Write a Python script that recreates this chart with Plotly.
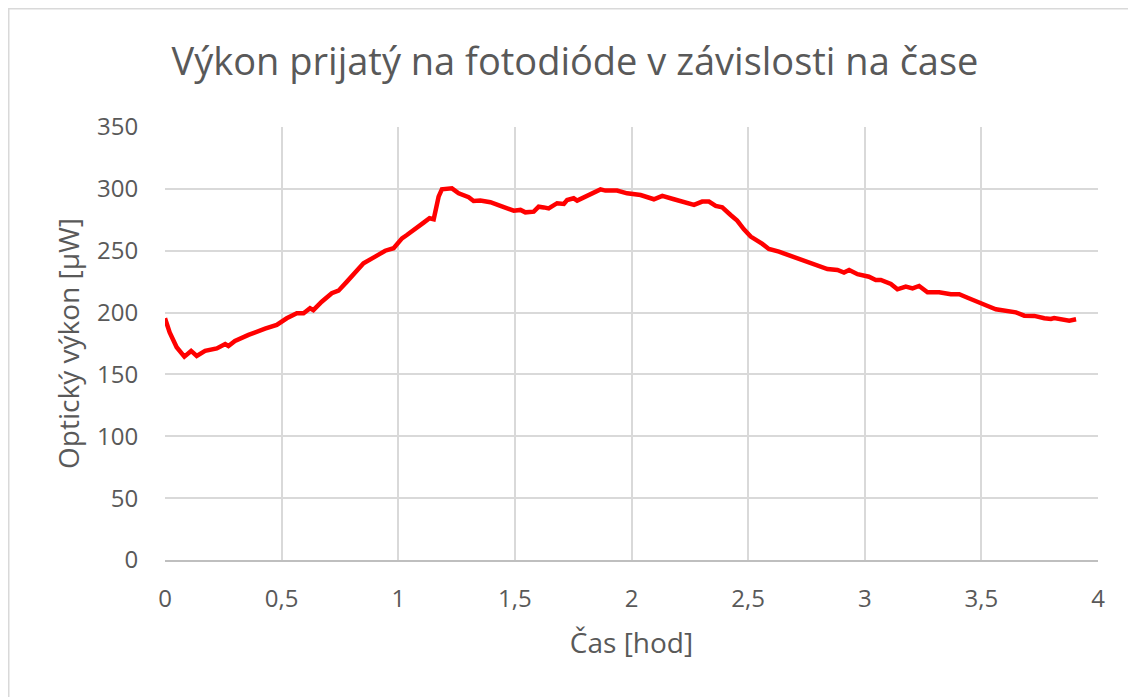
import plotly.graph_objects as go

# Time [hours]
cas_hod = [0.0, 0.02, 0.05, 0.083, 0.112, 0.136, 0.172, 0.222, 0.258, 0.272, 0.3, 0.358,
           0.429, 0.479, 0.522, 0.565, 0.594, 0.622, 0.636, 0.672, 0.715, 0.744, 0.78,
           0.815, 0.851, 0.901, 0.944, 0.98, 1.016, 1.037, 1.073, 1.109, 1.134, 1.152,
           1.173, 1.187, 1.23, 1.259, 1.302, 1.323, 1.352, 1.395, 1.438, 1.495, 1.524,
           1.545, 1.581, 1.602, 1.624, 1.645, 1.681, 1.71, 1.724, 1.752, 1.767, 1.81,
           1.838, 1.867, 1.888, 1.938, 1.981, 2.039, 2.096, 2.132, 2.182, 2.225, 2.268,
           2.303, 2.332, 2.361, 2.389, 2.425, 2.453, 2.482, 2.511, 2.561, 2.589, 2.632,
           2.682, 2.739, 2.783, 2.84, 2.883, 2.911, 2.933, 2.969, 3.018, 3.047, 3.069,
           3.112, 3.14, 3.176, 3.205, 3.233, 3.269, 3.319, 3.369, 3.405, 3.441, 3.484,
           3.527, 3.562, 3.612, 3.648, 3.684, 3.727, 3.77, 3.798, 3.812, 3.841, 3.877,
           3.906]

# Optical power [µW]
vykon_uW = [195.4, 184.0, 172.0, 164.4, 169.0, 165.0, 169.0, 171.0, 174.6, 173.0, 177.0, 182.0,
            187.0, 190.0, 195.4, 199.4, 199.4, 203.5, 202.0, 208.8, 215.6, 217.7, 225.0,
            231.8, 239.8, 245.2, 250.0, 252.0, 260.0, 262.7, 267.3, 272.7, 276.2, 275.4,
            293.7, 299.6, 300.4, 296.4, 293.2, 290.2, 290.5, 289.2, 286.2, 282.4, 283.0,
            281.0, 281.6, 285.6, 285.0, 284.2, 288.4, 287.8, 291.0, 292.4, 290.5, 294.3,
            296.4, 299.6, 298.6, 298.6, 296.4, 295.0, 291.6, 294.3, 291.6, 289.7, 287.0,
            289.7, 289.7, 286.2, 285.1, 278.9, 274.3, 267.3, 261.4, 255.5, 251.4, 249.2,
            245.8, 241.2, 238.5, 235.2, 234.4, 232.3, 234.4, 231.0, 229.0, 226.4, 226.4,
            223.1, 218.8, 221.0, 219.6, 221.5, 216.4, 216.4, 214.8, 214.8, 212.0, 208.3,
            205.3, 202.7, 201.3, 200.2, 197.5, 197.3, 195.4, 194.8, 195.6, 194.6, 193.5,
            194.6]

x_ticks = [0, 0.5, 1, 1.5, 2, 2.5, 3, 3.5, 4]
x_tick_labels = ["0", "0,5", "1", "1,5", "2", "2,5", "3", "3,5", "4"]
y_ticks = [0, 50, 100, 150, 200, 250, 300, 350]

font_family = "Open Sans, Liberation Sans, sans-serif"
text_color = "#595959"

fig = go.Figure()
fig.add_trace(go.Scatter(
    x=cas_hod, y=vykon_uW, mode="lines",
    line=dict(color="#ff0000", width=4.5, shape="linear"),
    showlegend=False, hoverinfo="x+y",
))

# page has an 8px body margin, so the figure is sized to fill the rest
W, H = 1128, 689
L, R, T, B = 157, 38, 119, 137
pw = W - L - R
ph = H - T - B

fig.update_layout(
    width=W, height=H,
    margin=dict(l=L, r=R, t=T, b=B),
    paper_bgcolor="white", plot_bgcolor="white",
    font=dict(family=font_family, color=text_color),
    title=dict(
        text="Výkon prijatý na fotodióde v závislosti na čase",
        x=567 / W, xanchor="center", y=1 - 54 / H, yanchor="middle",
        font=dict(size=38, color=text_color, family=font_family),
    ),
    xaxis=dict(
        range=[0, 4], tickvals=x_ticks, ticktext=x_tick_labels,
        showgrid=True, gridcolor="#d9d9d9", gridwidth=1.5,
        zeroline=False, showline=True, linecolor="#bfbfbf", linewidth=1.5,
        ticks="outside", ticklen=16, tickcolor="rgba(0,0,0,0)",
        tickfont=dict(size=24, color=text_color),
        title=dict(text="Čas [hod]", font=dict(size=28, color=text_color), standoff=21),
    ),
    yaxis=dict(
        range=[0, 350], tickvals=y_ticks,
        showgrid=True, gridcolor="#d9d9d9", gridwidth=1.5,
        zeroline=False, showline=False,
        ticks="outside", ticklen=21, tickcolor="rgba(0,0,0,0)",
        tickfont=dict(size=24, color=text_color),
        title=dict(text="Optický výkon [µW]", font=dict(size=28, color=text_color), standoff=9),
    ),
)

# Chart-area border (top and left visible, right/bottom run off the image)
fig.add_shape(type="rect", xref="paper", yref="paper",
              x0=(0.5 - L) / pw, x1=(W + 10 - L) / pw,
              y0=-(B + 10) / ph, y1=(H - 0.5 - B) / ph,
              line=dict(color="#d9d9d9", width=2), fillcolor="rgba(0,0,0,0)", layer="below")

fig.write_html("out.html")
